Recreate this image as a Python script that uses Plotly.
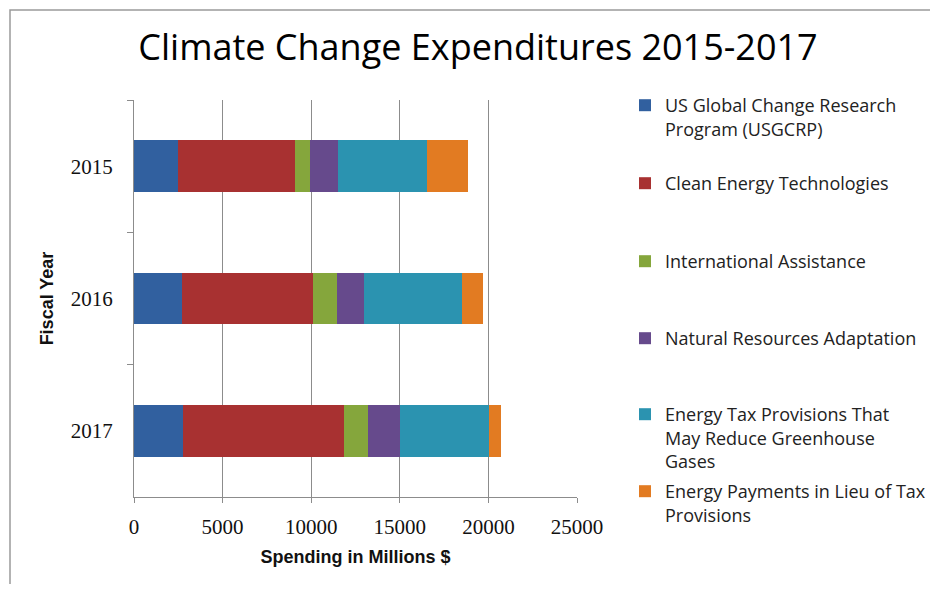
import plotly.graph_objects as go

years = ["2015", "2016", "2017"]
usgcrp = [2470, 2710, 2790]
clean_energy = [6590, 7400, 9080]
intl_assist = [890, 1320, 1340]
nat_resources = [1560, 1550, 1820]
energy_tax = [5030, 5550, 5030]
energy_payments = [2290, 1170, 660]

series_names = [
    "US Global Change Research<br>Program (USGCRP)",
    "Clean Energy Technologies",
    "International Assistance",
    "Natural Resources Adaptation",
    "Energy Tax Provisions That<br>May Reduce Greenhouse<br>Gases",
    "Energy Payments in Lieu of Tax<br>Provisions",
]
series_values = [usgcrp, clean_energy, intl_assist, nat_resources, energy_tax, energy_payments]
colors = ["#31609f", "#a83131", "#85a63c", "#664a8c", "#2b93b0", "#e27b22"]

# page has 8px body margin; figure is sized so the page is 938x592
O = 8
W, H = 938 - 2 * O, 592 - 2 * O
PL, PR, PT, PB = 134, 577, 100, 497   # plot area in page pixels
L, T = PL - O, PT - O
R, B = (W + O) - PR, (H + O) - PB
pw, ph = PR - PL, PB - PT

def px_x(p):
    return (p - PL) / pw

def px_y(p):
    return (PB - p) / ph

legend_tops = [87, 165, 243, 320, 396, 473]

fig = go.Figure()
layout_legends = {}
for i, (name, vals, col) in enumerate(zip(series_names, series_values, colors)):
    lg = "legend" if i == 0 else f"legend{i+1}"
    fig.add_trace(go.Bar(
        y=years, x=vals, name=name, orientation="h",
        marker=dict(color=col, line=dict(width=0)),
        legend=lg,
    ))
    layout_legends[lg] = dict(
        x=px_x(625), y=px_y(legend_tops[i]), xanchor="left", yanchor="top",
        font=dict(family="Open Sans", size=18, color="#222222"),
        bgcolor="rgba(0,0,0,0)", valign="top", itemwidth=30,
        tracegroupgap=0,
    )

fig.update_layout(
    width=W, height=H,
    margin=dict(l=L, r=R, t=T, b=B, autoexpand=False),
    barmode="stack", bargap=0.61,
    plot_bgcolor="white", paper_bgcolor="white",
    title=dict(text="Climate Change Expenditures 2015-2017",
               x=(478 - O) / W, xanchor="center", y=1 - (47 - O) / H, yanchor="middle",
               font=dict(family="Open Sans", size=36, color="#000000")),
    showlegend=True,
    **layout_legends,
)

fig.update_xaxes(
    range=[0, 25000], dtick=5000, tick0=0, tickformat="d",
    showgrid=True, gridcolor="#8c8c8c", gridwidth=1,
    showline=True, linecolor="#8c8c8c", linewidth=1,
    ticks="outside", ticklen=5, tickcolor="#8c8c8c",
    tickfont=dict(family="Liberation Serif", size=21, color="#111111"),
    ticklabelstandoff=6,
    title=dict(text="<b>Spending in Millions $</b>",
               font=dict(family="Liberation Sans", size=18, color="#111111"), standoff=12),
    zeroline=False, fixedrange=True,
)
fig.update_yaxes(
    autorange="reversed", type="category",
    showline=True, linecolor="#8c8c8c", linewidth=1,
    ticks="outside", ticklen=6, tickcolor="#8c8c8c", tickson="boundaries",
    tickfont=dict(family="Liberation Serif", size=21, color="#111111"),
    ticklabelstandoff=16,
    title=dict(text="<b>Fiscal Year</b>",
               font=dict(family="Liberation Sans", size=18, color="#111111"), standoff=12),
    showgrid=False,
)

fig.add_shape(type="path", xref="paper", yref="paper",
              path=f"M {px_x(10)} {px_y(600)} L {px_x(10)} {px_y(10)} L {px_x(945)} {px_y(10)}",
              line=dict(color="#9a9a9a", width=1.5), layer="below")

fig.write_html("out.html")
